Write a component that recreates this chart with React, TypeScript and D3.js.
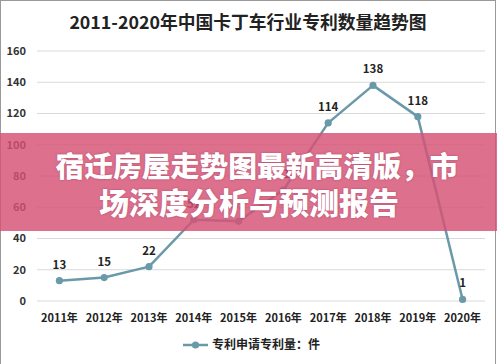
import { scaleBand, scaleLinear, line } from 'd3';

const width = 499;
const height = 364;

const years = ['2011年', '2012年', '2013年', '2014年', '2015年', '2016年', '2017年', '2018年', '2019年', '2020年'];
const patents = [13, 15, 22, 52, 51, 71, 114, 138, 118, 1];
const yTicks = [0, 20, 40, 60, 80, 100, 120, 140, 160];

const title = '2011-2020年中国卡丁车行业专利数量趋势图';
const legendLabel = '专利申请专利量：件';
const bannerLines = ['宿迁房屋走势图最新高清版，市', '场深度分析与预测报告'];

const font = '"Noto Sans CJK SC", "Noto Sans", sans-serif';
const lineColor = '#6a99a9';

const x = scaleBand<string>().domain(years).range([37, 485]);
const y = scaleLinear().domain([0, 160]).range([301, 51]);

const pathGen = line<number>()
  .x((_, i) => (x(years[i]) as number) + x.bandwidth() / 2)
  .y(d => y(d));

const App = () => {
  return (
    <svg
      width={width}
      height={height}
      style={{ position: 'absolute', left: 0, top: 0, background: '#fff' }}
      fontFamily={font}
    >
      <rect x={0.5} y={0.5} width={495} height={height + 2} fill="#fff" stroke="#9a9a9a" />
      <text x={248} y={29} textAnchor="middle" fontSize={17.8} fontWeight="bold" fill="#222">
        {title}
      </text>

      {yTicks.map(t => (
        <g key={t}>
          <line x1={37} x2={485} y1={y(t)} y2={y(t)} stroke="#d9d9d9" strokeWidth={1} />
          <text x={26} y={y(t)} dy="0.35em" textAnchor="end" fontSize={11} fontWeight={600} fill="#333">
            {t}
          </text>
        </g>
      ))}

      {years.map(yr => (
        <text
          key={yr}
          x={(x(yr) as number) + x.bandwidth() / 2}
          y={318}
          dy="0.35em"
          textAnchor="middle"
          fontSize={11}
          fontWeight="bold"
          fill="#222"
        >
          {yr}
        </text>
      ))}

      <path d={pathGen(patents) || ''} fill="none" stroke={lineColor} strokeWidth={2.5} strokeLinejoin="round" />
      {patents.map((v, i) => {
        const cx = (x(years[i]) as number) + x.bandwidth() / 2;
        return (
          <g key={i}>
            <circle cx={cx} cy={y(v)} r={3.6} fill={lineColor} />
            <text x={cx} y={y(v) - 16} dy="0.35em" textAnchor="middle" fontSize={11.5} fontWeight={600} fill="#222">
              {v}
            </text>
          </g>
        );
      })}

      <g transform="translate(183,345)">
        <line x1={0} x2={25} y1={0} y2={0} stroke={lineColor} strokeWidth={2.5} />
        <circle cx={12.5} cy={0} r={3.6} fill={lineColor} />
        <text x={29} y={0} dy="0.35em" fontSize={12} fontWeight="bold" fill="#222">
          {legendLabel}
        </text>
      </g>

      <rect x={0} y={133} width={497} height={98} fill="rgb(214,80,116)" fillOpacity={0.82} />
      {bannerLines.map((t, i) => (
        <text
          key={i}
          x={i === 0 ? 257 : 249}
          y={167 + i * 36}
          dy="0.36em"
          textAnchor="middle"
          fontSize={i === 0 ? 28.8 : 30}
          fontWeight={900}
          fill="#fff"
          style={{ textShadow: '0 0 2px rgba(120,30,60,0.5)' }}
        >
          {t}
        </text>
      ))}
    </svg>
  );
};

export default App;
